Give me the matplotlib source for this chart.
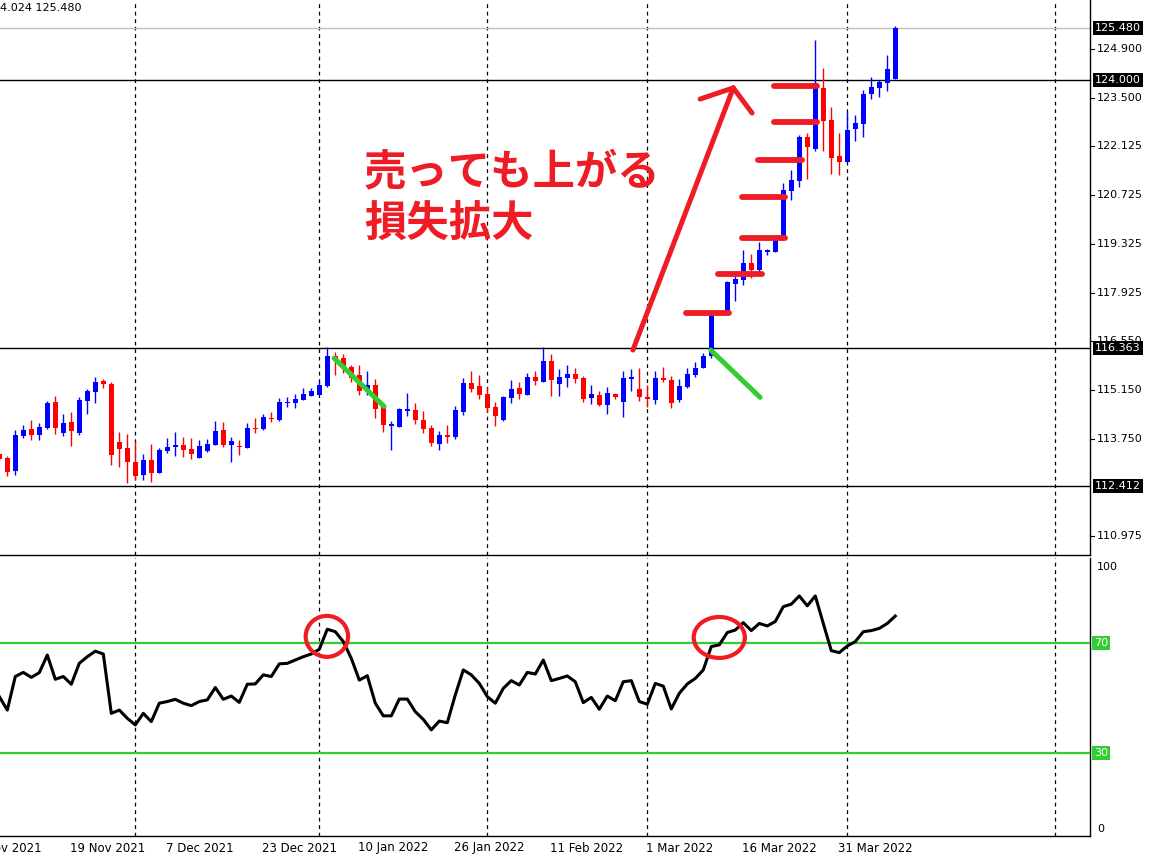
import matplotlib
matplotlib.use('Agg')
import matplotlib.pyplot as plt
from matplotlib.patches import Ellipse
import matplotlib.transforms as mtransforms

# ---------------- data (USDJPY daily) ----------------
opens = [113.32, 113.21, 112.84, 113.84, 114.04, 113.86, 114.06, 114.81, 113.93, 114.24,
         113.91, 114.84, 115.09, 115.42, 115.32, 113.67, 113.50, 113.09, 112.73, 113.15,
         112.79, 113.42, 113.53, 113.58, 113.46, 113.22, 113.42, 113.59, 114.01, 113.59,
         113.55, 113.50, 114.07, 114.03, 114.36, 114.29, 114.77, 114.78, 114.86, 114.99,
         115.02, 115.26, 116.12, 116.06, 115.80, 115.58, 115.15, 115.29, 114.69, 114.12,
         114.10, 114.56, 114.58, 114.29, 114.06, 113.62, 113.86, 113.81, 114.52, 115.36,
         115.26, 115.04, 114.66, 114.29, 114.93, 115.20, 115.02, 115.52, 115.38, 115.98,
         115.32, 115.50, 115.61, 115.49, 114.93, 115.01, 114.71, 115.04, 114.80, 115.47,
         115.18, 114.95, 114.86, 115.49, 115.44, 114.86, 115.24, 115.58, 115.77, 116.12,
         117.31, 117.33, 118.18, 118.29, 118.79, 118.58, 119.08, 119.08, 119.48, 120.84,
         121.13, 122.39, 122.03, 123.78, 122.86, 121.82, 121.65, 122.61, 122.75, 123.61,
         123.78, 123.93, 124.03]
highs = [113.36, 113.26, 114.01, 114.15, 114.29, 114.22, 114.83, 114.98, 114.46, 114.52,
         114.94, 115.17, 115.53, 115.47, 115.38, 113.96, 113.89, 113.69, 113.32, 113.61,
         113.48, 113.78, 113.95, 113.81, 113.79, 113.72, 113.75, 114.26, 114.24, 113.82,
         113.72, 114.20, 114.35, 114.46, 114.52, 114.92, 114.96, 115.04, 115.21, 115.21,
         115.40, 116.37, 116.23, 116.18, 115.86, 115.86, 115.69, 115.46, 114.72, 114.26,
         114.63, 115.07, 114.79, 114.56, 114.14, 113.99, 114.15, 114.70, 115.50, 115.69,
         115.59, 115.23, 114.82, 114.98, 115.44, 115.38, 115.64, 115.68, 116.37, 116.18,
         115.75, 115.86, 115.78, 115.55, 115.29, 115.12, 115.24, 115.06, 115.69, 115.75,
         115.78, 115.29, 115.69, 115.81, 115.55, 115.46, 115.77, 115.94, 116.22, 117.35,
         117.42, 118.25, 118.41, 119.15, 119.03, 119.39, 119.17, 119.48, 121.05, 121.44,
         122.44, 122.48, 125.15, 124.34, 123.23, 122.50, 123.10, 123.01, 123.72, 124.08,
         124.01, 124.72, 125.56]
lows = [113.12, 112.69, 112.73, 113.78, 113.72, 113.72, 114.03, 113.89, 113.84, 113.55,
        113.87, 114.46, 114.79, 115.21, 113.01, 112.94, 112.50, 112.58, 112.58, 112.52,
        112.77, 113.34, 113.26, 113.24, 113.19, 113.21, 113.39, 113.57, 113.53, 113.10,
        113.30, 113.50, 113.93, 114.01, 114.24, 114.27, 114.67, 114.64, 114.86, 114.99,
        115.01, 115.24, 115.59, 115.63, 115.39, 115.01, 115.01, 114.36, 113.96, 113.44,
        114.10, 114.41, 114.19, 113.92, 113.55, 113.44, 113.64, 113.76, 114.44, 115.08,
        114.89, 114.51, 114.12, 114.27, 114.77, 114.89, 115.02, 115.29, 115.38, 114.98,
        114.98, 115.24, 115.34, 114.81, 114.75, 114.70, 114.46, 114.88, 114.39, 115.12,
        114.84, 114.66, 114.75, 115.37, 114.63, 114.80, 115.22, 115.53, 115.77, 116.05,
        117.28, 117.30, 117.69, 118.15, 118.36, 118.48, 119.00, 119.08, 119.48, 120.58,
        120.96, 121.18, 121.99, 121.98, 121.32, 121.29, 121.65, 122.27, 122.39, 123.47,
        123.51, 123.70, 124.02]
closes = [113.17, 112.82, 113.86, 114.01, 113.86, 114.08, 114.77, 114.06, 114.20, 113.99,
          114.86, 115.11, 115.38, 115.32, 113.29, 113.46, 113.09, 112.70, 113.15, 112.77,
          113.44, 113.51, 113.58, 113.44, 113.33, 113.55, 113.61, 113.98, 113.59, 113.69,
          113.51, 114.06, 114.04, 114.38, 114.32, 114.81, 114.82, 114.89, 115.04, 115.12,
          115.29, 116.12, 116.03, 115.80, 115.48, 115.13, 115.28, 114.62, 114.16, 114.17,
          114.61, 114.61, 114.30, 114.04, 113.64, 113.86, 113.82, 114.58, 115.36, 115.18,
          115.02, 114.64, 114.41, 114.95, 115.18, 115.04, 115.52, 115.41, 115.98, 115.44,
          115.52, 115.61, 115.46, 114.89, 115.04, 114.71, 115.06, 114.94, 115.49, 115.52,
          114.95, 114.88, 115.49, 115.44, 114.77, 115.26, 115.61, 115.77, 116.12, 117.31,
          117.37, 118.23, 118.33, 118.79, 118.58, 119.15, 119.15, 119.44, 120.86, 121.15,
          122.39, 122.10, 123.91, 122.84, 121.79, 121.67, 122.58, 122.77, 123.61, 123.81,
          123.95, 124.32, 125.48]
rsi = [50.5, 45.6, 57.8, 59.3, 57.5, 59.2, 65.6, 56.8, 57.8, 55.0,
       62.6, 65.0, 67.0, 66.0, 44.4, 45.6, 42.6, 40.2, 44.4, 41.4,
       48.1, 48.7, 49.5, 48.1, 47.2, 48.7, 49.3, 53.8, 49.5, 50.7,
       48.4, 55.0, 55.1, 58.4, 57.8, 62.4, 62.6, 63.8, 65.0, 66.0,
       67.7, 75.0, 74.1, 70.5, 64.4, 56.5, 58.1, 48.1, 43.5, 43.5,
       49.6, 49.6, 45.0, 42.2, 38.4, 41.6, 41.0, 51.1, 60.2, 58.4,
       55.3, 50.5, 48.1, 53.5, 56.3, 54.7, 59.3, 58.7, 63.8, 56.3,
       57.1, 58.0, 55.9, 48.3, 50.2, 45.9, 50.7, 49.0, 55.9, 56.3,
       48.7, 47.7, 55.3, 54.3, 46.0, 51.7, 55.1, 57.1, 60.2, 68.7,
       69.3, 73.8, 74.7, 77.4, 74.5, 77.1, 76.2, 77.8, 83.2, 84.1,
       87.1, 83.5, 87.1, 77.1, 67.2, 66.5, 68.9, 70.5, 74.1, 74.5,
       75.3, 77.1, 79.8]

price_ticks = [124.900, 123.500, 122.125, 120.725, 119.325, 117.925, 116.550,
               115.150, 113.750, 110.975]
marked_levels = [124.000, 116.363, 112.412]
bid_price = 125.480
rsi_levels = [70, 30]
date_pos = [-3, 9, 21, 33, 45, 57, 69, 81, 93, 105]
date_labels = ['3 Nov 2021', '19 Nov 2021', '7 Dec 2021', '23 Dec 2021', '10 Jan 2022',
               '26 Jan 2022', '11 Feb 2022', '1 Mar 2022', '16 Mar 2022', '31 Mar 2022']
month_grid = [17, 40, 61, 81, 106, 132]

# annotation geometry (bar index, price)
step_lines = [(85.8, 91.2, 117.34), (89.8, 95.3, 118.46), (92.8, 98.2, 119.48),
              (92.8, 98.2, 120.66), (94.8, 100.3, 121.71), (96.8, 102.2, 122.81),
              (96.8, 102.2, 123.84)]
arrow_tail = (79.2, 116.29)
arrow_tip = (91.75, 123.78)
arrow_barbs = [(87.6, 123.46), (94.1, 123.06)]
green_lines = [((41.85, 116.06), (48.1, 114.68)), ((88.93, 116.29), (95.1, 114.94))]
rsi_circles = [(40.95, 72.4, 5.3, 14.9), (90.0, 72.0, 6.4, 14.9)]

# ---------------- figure ----------------
W, H = 1155, 861
fig = plt.figure(figsize=(W / 100, H / 100), dpi=100)
fig.patch.set_facecolor('white')

def px_axes(x0, y0, x1, y1):
    return fig.add_axes([x0 / W, 1 - y1 / H, (x1 - x0) / W, (y1 - y0) / H])

ax = px_axes(0, 0, 1090, 555)
ax2 = px_axes(0, 558, 1090, 836)
XL = (0.0875, 136.34)
for a in (ax, ax2):
    a.set_xlim(*XL)
    a.set_xticks([])
    a.set_yticks([])
    a.tick_params(left=False, labelleft=False, bottom=False, labelbottom=False)
    a.set_facecolor('white')
    for s in ('left', 'top'):
        a.spines[s].set_visible(False)
    a.spines['right'].set_color('black')
    a.spines['bottom'].set_color('black')
    a.spines['right'].set_linewidth(1.0)
    a.spines['bottom'].set_linewidth(1.0)

ax.set_ylim(110.436, 126.29)
ax2.set_ylim(-0.2, 100.9)

BLUE = '#0000FF'
RED = '#FF0000'
ANN_RED = '#EE1D25'
ANN_GREEN = '#33CC33'
RSI_GREEN = '#32CD32'

# month separators
for a in (ax, ax2):
    for g in month_grid:
        a.axvline(g, color='black', lw=0.9, ls=(0, (3, 3)), zorder=1)

# level lines
ax.axhline(bid_price, color='#C0C0C0', lw=1.0, zorder=1)
for lv in marked_levels:
    ax.axhline(lv, color='black', lw=1.0, zorder=2)

# candles
idx = list(range(len(closes)))
for i in idx:
    o, h, l, c = opens[i], highs[i], lows[i], closes[i]
    col = BLUE if c >= o else RED
    ax.vlines(i, l, h, color=col, lw=1.0, zorder=3)
    bottom = min(o, c)
    height = max(abs(c - o), 0.035)
    ax.bar(i, height, bottom=bottom, width=0.66, color=col, edgecolor='none', zorder=4)

# annotations on price panel
for x0, x1, p in step_lines:
    ax.plot([x0, x1], [p, p], color=ANN_RED, lw=4.2, solid_capstyle='round', zorder=6)
ax.plot([arrow_tail[0], arrow_tip[0]], [arrow_tail[1], arrow_tip[1]], color=ANN_RED,
        lw=3.6, solid_capstyle='round', zorder=6)
for bx, by in arrow_barbs:
    ax.plot([bx, arrow_tip[0]], [by, arrow_tip[1]], color=ANN_RED, lw=3.6,
            solid_capstyle='round', zorder=6)
for (x0, y0), (x1, y1) in green_lines:
    ax.plot([x0, x1], [y0, y1], color=ANN_GREEN, lw=3.6, solid_capstyle='round', zorder=6)

jp = ['Noto Sans CJK JP', 'DejaVu Sans']
ax.text(45.6, 121.38, '売っても上がる', color=ANN_RED, fontsize=30.5, family=jp,
        weight='bold', ha='left', va='center', zorder=7)
ax.text(45.6, 119.86, '損失拡大', color=ANN_RED, fontsize=30.5, family=jp,
        weight='bold', ha='left', va='center', zorder=7)

# header text
fig.text(0.5 / W, 1 - 8 / H, '4.024 125.480', fontsize=8, color='black', ha='left', va='center')

# right price scale
trans_r = mtransforms.blended_transform_factory(ax.transAxes, ax.transData)
for p in price_ticks:
    ax.text(1.0 + 7 / 1090, p, f'{p:.3f}', transform=trans_r, fontsize=8, ha='left',
            va='center', color='black', clip_on=False, zorder=8)
    ax.plot([1.0, 1.0 + 4 / 1090], [p, p], transform=trans_r, color='black', lw=0.8,
            clip_on=False)
for p in [bid_price] + marked_levels:
    ax.text(1.0 + 5 / 1090, p, f'{p:.3f}', transform=trans_r, fontsize=8, ha='left',
            va='center', color='white', clip_on=False, zorder=10,
            bbox=dict(boxstyle='square,pad=0.18', fc='black', ec='none'))

# RSI panel
ax2.plot(idx, rsi, color='black', lw=2.2, zorder=4, solid_joinstyle='round')
for lv in rsi_levels:
    ax2.axhline(lv, color=RSI_GREEN, lw=1.6, zorder=3)
for cx, cy, w, h in rsi_circles:
    ax2.add_patch(Ellipse((cx, cy), w, h, fill=False, ec=ANN_RED, lw=3.0, zorder=6))

trans_r2 = mtransforms.blended_transform_factory(ax2.transAxes, ax2.transData)
narrow = ['Liberation Sans Narrow', 'DejaVu Sans']
ax2.text(1.0 + 7 / 1090, 97.5, '100', transform=trans_r2, fontsize=8, ha='left',
         va='center', family=narrow, clip_on=False)
ax2.text(1.0 + 7 / 1090, 2.5, '0', transform=trans_r2, fontsize=8, ha='left',
         va='center', family=narrow, clip_on=False)
for lv in rsi_levels:
    ax2.text(1.0 + 4 / 1090, lv, f'{lv}', transform=trans_r2, fontsize=8, ha='left',
             va='center', color='white', family=narrow, clip_on=False,
             bbox=dict(boxstyle='square,pad=0.2', fc=RSI_GREEN, ec='none'))

# time axis labels
trans_b = mtransforms.blended_transform_factory(ax2.transData, fig.transFigure)
for pos, lab in zip(date_pos, date_labels):
    ax2.text(pos - 0.15, 1 - 848 / H, lab, transform=trans_b, fontsize=8.5, ha='left',
             va='center', family=narrow, clip_on=False)

fig.savefig('out.png', dpi=100, facecolor='white')
